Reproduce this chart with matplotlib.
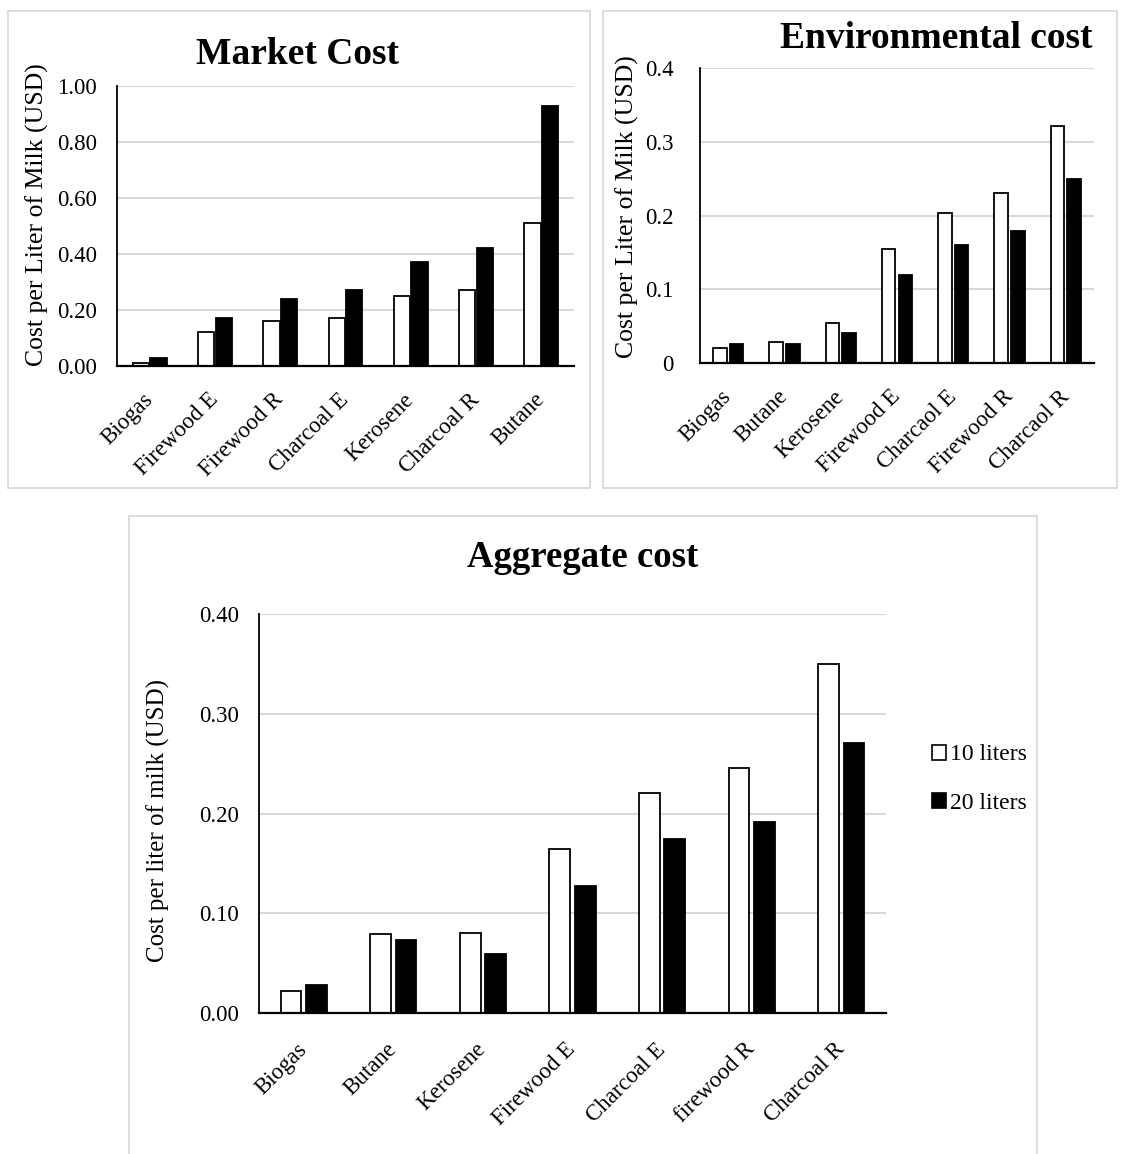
import matplotlib
matplotlib.use("Agg")
import matplotlib.pyplot as plt
import numpy as np
from matplotlib.patches import Rectangle, Patch

plt.rcParams['font.family'] = ['Liberation Serif', 'DejaVu Serif']

# ---- data ----
market_cats = ["Biogas", "Firewood E", "Firewood R", "Charcoal E", "Kerosene", "Charcoal R", "Butane"]
market_10 = [0.01, 0.12, 0.16, 0.17, 0.25, 0.27, 0.51]
market_20 = [0.03, 0.17, 0.24, 0.27, 0.37, 0.42, 0.93]
market_ticks = [0.0, 0.2, 0.4, 0.6, 0.8, 1.0]

env_cats = ["Biogas", "Butane", "Kerosene", "Firewood E", "Charcaol E", "Firewood R", "Charcaol R"]
env_10 = [0.020, 0.028, 0.054, 0.155, 0.203, 0.231, 0.321]
env_20 = [0.026, 0.026, 0.041, 0.120, 0.160, 0.179, 0.249]
env_ticks = [0, 0.1, 0.2, 0.3, 0.4]

agg_cats = ["Biogas", "Butane", "Kerosene", "Firewood E", "Charcoal E", "firewood R", "Charcoal R"]
agg_10 = [0.022, 0.079, 0.080, 0.164, 0.221, 0.246, 0.350]
agg_20 = [0.028, 0.073, 0.059, 0.127, 0.174, 0.191, 0.271]
agg_ticks = [0.0, 0.1, 0.2, 0.3, 0.4]

series_names = ["10 liters", "20 liters"]

W, H = 1126, 1154
fig = plt.figure(figsize=(W / 100, H / 100), dpi=100)


def box(x0, y0, x1, y1):
    return [x0 / W, 1 - y1 / H, (x1 - x0) / W, (y1 - y0) / H]


def frame(x0, y0, x1, y1):
    fig.patches.append(Rectangle((x0 / W, 1 - y1 / H), (x1 - x0) / W, (y1 - y0) / H,
                                 transform=fig.transFigure, fill=False,
                                 edgecolor="#d9d9d9", linewidth=1.3))


def bar_panel(rect, cats, v10, v20, ticks, fmt, width, offset, ypad, xpad):
    ax = fig.add_axes(rect)
    x = np.arange(len(cats))
    ax.bar(x - offset, v10, width, color="white", edgecolor="black", linewidth=1.3, zorder=3)
    ax.bar(x + offset, v20, width, color="black", edgecolor="black", linewidth=1.3, zorder=3)
    ax.set_xlim(-0.5, len(cats) - 0.5)
    ax.set_ylim(ticks[0], ticks[-1])
    ax.set_yticks(ticks)
    ax.set_yticklabels([fmt.format(t) for t in ticks], fontsize=16.5)
    ax.set_xticks(x)
    ax.set_xticklabels(cats, rotation=45, ha="right", va="center",
                       rotation_mode="anchor", fontsize=16.5)
    ax.tick_params(axis="both", length=0)
    ax.tick_params(axis="x", pad=xpad)
    ax.tick_params(axis="y", pad=ypad)
    ax.yaxis.grid(True, color="#d9d9d9", linewidth=1.5, zorder=0)
    ax.set_axisbelow(True)
    for s in ("top", "right"):
        ax.spines[s].set_visible(False)
    ax.spines["left"].set_linewidth(1.3)
    ax.spines["bottom"].set_linewidth(1.6)
    ax.spines["left"].set_zorder(4)
    ax.spines["bottom"].set_zorder(4)
    return ax


# panel frames
frame(8, 11, 590, 488)
frame(603, 11, 1117, 488)
frame(129, 516, 1037, 1160)

# Market cost
bar_panel(box(117, 86, 574, 366), market_cats, market_10, market_20, market_ticks,
          "{:.2f}", 0.25, 0.135, 14.5, 22)
fig.text(298 / W, 1 - 54 / H, "Market Cost", fontsize=27, fontweight="bold",
         ha="center", va="center")
fig.text(37 / W, 1 - 215 / H, "Cost per Liter of Milk (USD)", fontsize=18.5,
         rotation=90, ha="center", va="center")

# Environmental cost
bar_panel(box(700, 68, 1094, 363), env_cats, env_10, env_20, env_ticks,
          "{:g}", 0.24, 0.148, 19, 22)
fig.text(1093 / W, 1 - 39 / H, "Environmental cost", fontsize=27, fontweight="bold",
         ha="right", va="center")
fig.text(627 / W, 1 - 207 / H, "Cost per Liter of Milk (USD)", fontsize=18.5,
         rotation=90, ha="center", va="center")

# Aggregate cost
bar_panel(box(259, 614, 886, 1013), agg_cats, agg_10, agg_20, agg_ticks,
          "{:.2f}", 0.23, 0.142, 14.5, 24)
fig.text(583 / W, 1 - 558 / H, "Aggregate cost", fontsize=26.5, fontweight="bold",
         ha="center", va="center")
fig.text(158 / W, 1 - 820 / H, "Cost per liter of milk (USD)", fontsize=18,
         rotation=90, ha="center", va="center")

handles = [Patch(facecolor="white", edgecolor="black", linewidth=1.2),
           Patch(facecolor="black", edgecolor="black", linewidth=1.2)]
fig.legend(handles, series_names, loc="center left",
           bbox_to_anchor=(932 / W, 1 - 779 / H), frameon=False, fontsize=17,
           handlelength=0.6, handleheight=0.6, handletextpad=0.15, labelspacing=1.15,
           borderaxespad=0, borderpad=0)

fig.savefig("out.png", dpi=100)
